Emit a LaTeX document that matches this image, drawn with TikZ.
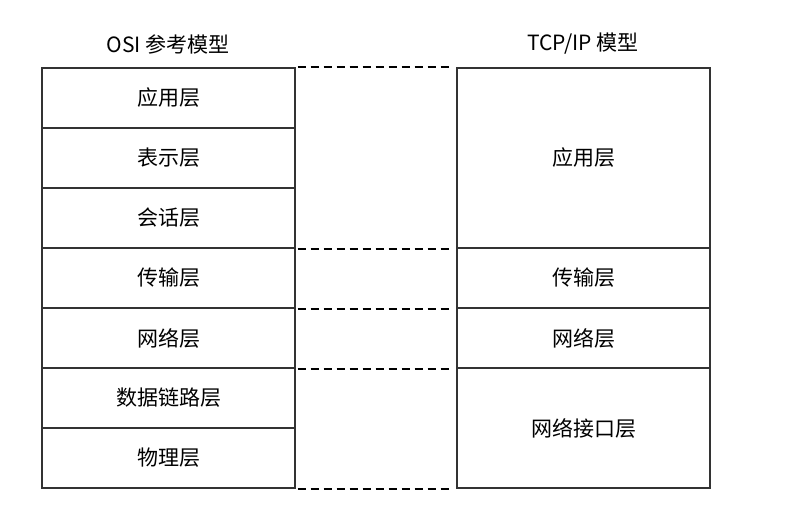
\documentclass[tikz,border=0pt]{standalone}
\usepackage{fontspec}
\setmainfont{Noto Sans CJK SC}
\usetikzlibrary{positioning}
\begin{document}
\begin{tikzpicture}[x=1pt,y=-1pt,
	layer/.style={draw=black!80,line width=1.1pt,minimum width=253pt,inner sep=0pt,font=\fontsize{21}{21}\selectfont},
	link/.style={black,line width=2pt,dash pattern=on 8pt off 5pt,shorten <=2pt,shorten >=3pt}]
	\useasboundingbox (0,0) rectangle (801,529);
	\node[font=\fontsize{21}{21}\selectfont] (osititle) at (168,44) {OSI 参考模型};
	\node[font=\fontsize{21}{21}\selectfont] (tcptitle) at (583,44) {TCP/IP 模型};
	\foreach \n/\t in {1/应用层,2/表示层,3/会话层,4/传输层,5/网络层,6/数据链路层,7/物理层}{
			\node[layer,minimum height=60pt] (osi\n) at (168.5,38+\n*60) {\t};
		}
	\node[layer,minimum height=180pt] (tcp1) at (583.5,158) {应用层};
	\node[layer,minimum height=60pt] (tcp2) at (583.5,278) {传输层};
	\node[layer,minimum height=60pt] (tcp3) at (583.5,338) {网络层};
	\node[layer,minimum height=120pt] (tcp4) at (583.5,428) {网络接口层};
	\draw[link] (osi1.north east) -- (tcp1.north west);
	\draw[link] (osi3.south east) -- (tcp1.south west);
	\draw[link] (osi4.south east) -- (tcp2.south west);
	\draw[link] (osi5.south east) -- (tcp3.south west);
	\draw[link] (osi7.south east) -- (tcp4.south west);
\end{tikzpicture}
\end{document}
